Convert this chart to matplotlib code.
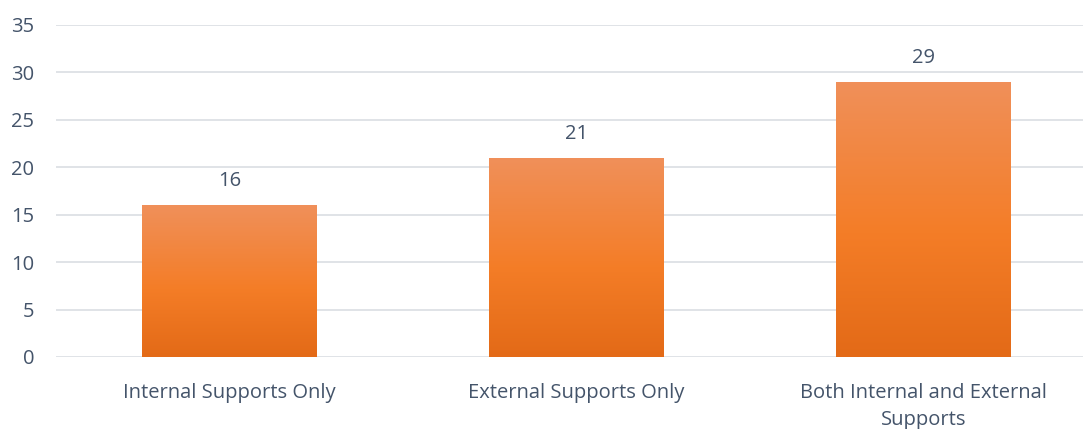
import matplotlib
matplotlib.use("Agg")
import matplotlib.pyplot as plt
import numpy as np
from matplotlib.colors import LinearSegmentedColormap

categories = ["Internal Supports Only", "External Supports Only",
              "Both Internal and External\nSupports"]
counts = [16, 21, 29]
yticks = [0, 5, 10, 15, 20, 25, 30, 35]

text_color = "#44546A"
grid_color = "#DDE0E5"
# bottom -> top
bar_cmap = LinearSegmentedColormap.from_list(
    "bar", [(0, "#E36A17"), (0.45, "#F47D27"), (1, "#F0905A")])

plt.rcParams["font.family"] = ["Open Sans", "DejaVu Sans"]

fig = plt.figure(figsize=(10.83, 4.29), dpi=100)
ax = fig.add_axes([56 / 1083, 1 - 357 / 429, 1 - 56 / 1083, 332 / 429])

xs = np.arange(len(categories))
bars = ax.bar(xs, counts, width=0.504, color="none", zorder=3)

grad = np.linspace(0, 1, 256).reshape(-1, 1)
for b, v in zip(bars, counts):
    x0 = b.get_x()
    im = ax.imshow(grad, cmap=bar_cmap, origin="lower", aspect="auto",
                   extent=(x0, x0 + b.get_width(), 0, v), zorder=3)
    im.set_clip_path(b)
    ax.annotate(str(v), (b.get_x() + b.get_width() / 2, v),
                xytext=(0, 24), textcoords="offset pixels",
                ha="center", va="center", fontsize=14.5, color=text_color)

ax.set_xlim(-0.5, 2.46)
ax.set_ylim(0, 35)
ax.set_yticks(yticks)
ax.set_xticks(xs)
ax.set_xticklabels(categories, linespacing=1.45)
ax.tick_params(axis="both", length=0, labelsize=14.5, colors=text_color)
ax.tick_params(axis="y", pad=15.5)
ax.tick_params(axis="x", pad=19)
ax.grid(axis="y", color=grid_color, linewidth=1.3, zorder=0)
for s in ax.spines.values():
    s.set_visible(False)

fig.savefig("out.png", dpi=100)
